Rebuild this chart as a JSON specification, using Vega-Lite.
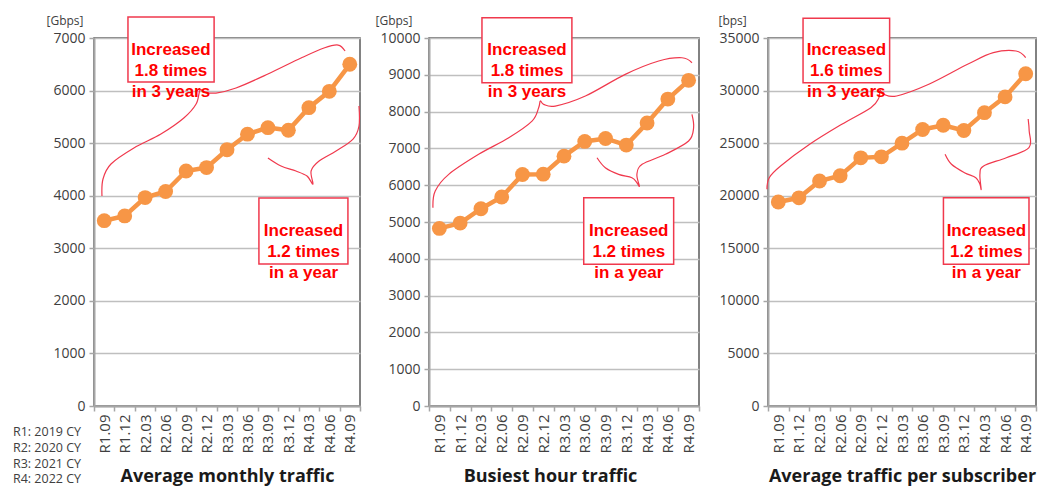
{
  "$schema": "https://vega.github.io/schema/vega-lite/v6.json",
  "padding": {"left": 12, "top": 13, "right": 0, "bottom": 0},
  "bounds": "flush",
  "spacing": 69,
  "datasets": {
    "traffic": [
      {"period": "R1.09", "monthly": 3525, "busiest": 4825, "subscriber": 19400},
      {"period": "R1.12", "monthly": 3615, "busiest": 4970, "subscriber": 19800},
      {"period": "R2.03", "monthly": 3965, "busiest": 5360, "subscriber": 21400},
      {"period": "R2.06", "monthly": 4080, "busiest": 5680, "subscriber": 21900},
      {"period": "R2.09", "monthly": 4470, "busiest": 6290, "subscriber": 23600},
      {"period": "R2.12", "monthly": 4535, "busiest": 6300, "subscriber": 23700},
      {"period": "R3.03", "monthly": 4875, "busiest": 6790, "subscriber": 25000},
      {"period": "R3.06", "monthly": 5170, "busiest": 7190, "subscriber": 26300},
      {"period": "R3.09", "monthly": 5295, "busiest": 7270, "subscriber": 26700},
      {"period": "R3.12", "monthly": 5245, "busiest": 7090, "subscriber": 26200},
      {"period": "R4.03", "monthly": 5675, "busiest": 7690, "subscriber": 27900},
      {"period": "R4.06", "monthly": 5985, "busiest": 8340, "subscriber": 29400},
      {"period": "R4.09", "monthly": 6500, "busiest": 8850, "subscriber": 31600}
    ],
    "boxes": [
      {"panel": 1, "x1": 1.16, "x2": 5.37, "y1": 6163, "y2": 7399, "cx": 3.26, "cy": 6781, "label": "Increased\n1.8 times\nin 3 years"},
      {"panel": 1, "x1": 7.56, "x2": 11.91, "y1": 2701, "y2": 3956, "cx": 9.74, "cy": 3329, "label": "Increased\n1.2 times\nin a year"},
      {"panel": 2, "x1": 2.05, "x2": 6.38, "y1": 8784, "y2": 10550, "cx": 4.22, "cy": 9667, "label": "Increased\n1.8 times\nin 3 years"},
      {"panel": 2, "x1": 6.95, "x2": 11.28, "y1": 3850, "y2": 5660, "cx": 9.12, "cy": 4755, "label": "Increased\n1.2 times\nin a year"},
      {"panel": 3, "x1": 1.2, "x2": 5.4, "y1": 30750, "y2": 36874, "cx": 3.3, "cy": 33812, "label": "Increased\n1.6 times\nin 3 years"},
      {"panel": 3, "x1": 8.01, "x2": 12.16, "y1": 13477, "y2": 19812, "cx": 10.09, "cy": 16645, "label": "Increased\n1.2 times\nin a year"}
    ],
    "notes": [
      {"x": -4.46, "y": -495, "label": "R1: 2019 CY\nR2: 2020 CY\nR3: 2021 CY\nR4: 2022 CY"}
    ],
    "braces": [
      {"panel": 1, "b": 1, "k": 1, "x": -0.11, "y": 3994},
      {"panel": 1, "b": 1, "k": 2, "x": -0.06, "y": 4318},
      {"panel": 1, "b": 1, "k": 3, "x": 0.33, "y": 4603},
      {"panel": 1, "b": 1, "k": 4, "x": 1.45, "y": 4907},
      {"panel": 1, "b": 1, "k": 5, "x": 2.77, "y": 5173},
      {"panel": 1, "b": 1, "k": 6, "x": 3.89, "y": 5478},
      {"panel": 1, "b": 1, "k": 7, "x": 4.49, "y": 5744},
      {"panel": 1, "b": 1, "k": 8, "x": 4.68, "y": 6010},
      {"panel": 1, "b": 1, "k": 9, "x": 4.88, "y": 5972},
      {"panel": 1, "b": 1, "k": 10, "x": 5.46, "y": 5953},
      {"panel": 1, "b": 1, "k": 11, "x": 6.44, "y": 6048},
      {"panel": 1, "b": 1, "k": 12, "x": 8.0, "y": 6315},
      {"panel": 1, "b": 1, "k": 13, "x": 9.62, "y": 6619},
      {"panel": 1, "b": 1, "k": 14, "x": 10.74, "y": 6809},
      {"panel": 1, "b": 1, "k": 15, "x": 11.43, "y": 6866},
      {"panel": 1, "b": 1, "k": 16, "x": 11.77, "y": 6752},
      {"panel": 1, "b": 2, "k": 1, "x": 8.0, "y": 4717},
      {"panel": 1, "b": 2, "k": 2, "x": 8.64, "y": 4565},
      {"panel": 1, "b": 2, "k": 3, "x": 9.37, "y": 4470},
      {"panel": 1, "b": 2, "k": 4, "x": 9.91, "y": 4375},
      {"panel": 1, "b": 2, "k": 5, "x": 10.2, "y": 4222},
      {"panel": 1, "b": 2, "k": 6, "x": 10.11, "y": 4470},
      {"panel": 1, "b": 2, "k": 7, "x": 10.5, "y": 4660},
      {"panel": 1, "b": 2, "k": 8, "x": 11.33, "y": 4850},
      {"panel": 1, "b": 2, "k": 9, "x": 12.16, "y": 5078},
      {"panel": 1, "b": 2, "k": 10, "x": 12.45, "y": 5326},
      {"panel": 1, "b": 2, "k": 11, "x": 12.45, "y": 5706},
      {"panel": 2, "b": 3, "k": 1, "x": -0.31, "y": 5388},
      {"panel": 2, "b": 3, "k": 2, "x": -0.2, "y": 5842},
      {"panel": 2, "b": 3, "k": 3, "x": 0.45, "y": 6295},
      {"panel": 2, "b": 3, "k": 4, "x": 1.89, "y": 6839},
      {"panel": 2, "b": 3, "k": 5, "x": 3.34, "y": 7290},
      {"panel": 2, "b": 3, "k": 6, "x": 4.46, "y": 7743},
      {"panel": 2, "b": 3, "k": 7, "x": 4.78, "y": 8105},
      {"panel": 2, "b": 3, "k": 8, "x": 4.86, "y": 8287},
      {"panel": 2, "b": 3, "k": 9, "x": 5.02, "y": 8197},
      {"panel": 2, "b": 3, "k": 10, "x": 5.58, "y": 8151},
      {"panel": 2, "b": 3, "k": 11, "x": 7.03, "y": 8423},
      {"panel": 2, "b": 3, "k": 12, "x": 8.95, "y": 9012},
      {"panel": 2, "b": 3, "k": 13, "x": 10.56, "y": 9374},
      {"panel": 2, "b": 3, "k": 14, "x": 11.68, "y": 9463},
      {"panel": 2, "b": 3, "k": 15, "x": 12.16, "y": 9327},
      {"panel": 2, "b": 4, "k": 1, "x": 7.59, "y": 6746},
      {"panel": 2, "b": 4, "k": 2, "x": 7.99, "y": 6475},
      {"panel": 2, "b": 4, "k": 3, "x": 8.63, "y": 6295},
      {"panel": 2, "b": 4, "k": 4, "x": 9.27, "y": 6203},
      {"panel": 2, "b": 4, "k": 5, "x": 9.51, "y": 6067},
      {"panel": 2, "b": 4, "k": 6, "x": 9.63, "y": 5977},
      {"panel": 2, "b": 4, "k": 7, "x": 9.51, "y": 6295},
      {"panel": 2, "b": 4, "k": 8, "x": 9.76, "y": 6567},
      {"panel": 2, "b": 4, "k": 9, "x": 10.88, "y": 6839},
      {"panel": 2, "b": 4, "k": 10, "x": 12.0, "y": 7200},
      {"panel": 2, "b": 4, "k": 11, "x": 12.24, "y": 7561},
      {"panel": 2, "b": 4, "k": 12, "x": 12.16, "y": 7926},
      {"panel": 3, "b": 5, "k": 1, "x": -0.55, "y": 20611},
      {"panel": 3, "b": 5, "k": 2, "x": -0.44, "y": 21714},
      {"panel": 3, "b": 5, "k": 3, "x": 0.11, "y": 22826},
      {"panel": 3, "b": 5, "k": 4, "x": 1.52, "y": 24890},
      {"panel": 3, "b": 5, "k": 5, "x": 3.08, "y": 26793},
      {"panel": 3, "b": 5, "k": 6, "x": 4.49, "y": 28372},
      {"panel": 3, "b": 5, "k": 7, "x": 4.88, "y": 29323},
      {"panel": 3, "b": 5, "k": 8, "x": 4.93, "y": 30027},
      {"panel": 3, "b": 5, "k": 9, "x": 5.12, "y": 29646},
      {"panel": 3, "b": 5, "k": 10, "x": 5.74, "y": 29485},
      {"panel": 3, "b": 5, "k": 11, "x": 7.3, "y": 30597},
      {"panel": 3, "b": 5, "k": 12, "x": 9.18, "y": 32499},
      {"panel": 3, "b": 5, "k": 13, "x": 10.43, "y": 33602},
      {"panel": 3, "b": 5, "k": 14, "x": 11.53, "y": 33764},
      {"panel": 3, "b": 5, "k": 15, "x": 12.0, "y": 33127},
      {"panel": 3, "b": 6, "k": 1, "x": 8.09, "y": 23939},
      {"panel": 3, "b": 6, "k": 2, "x": 8.4, "y": 22988},
      {"panel": 3, "b": 6, "k": 3, "x": 9.03, "y": 22189},
      {"panel": 3, "b": 6, "k": 4, "x": 9.58, "y": 21714},
      {"panel": 3, "b": 6, "k": 5, "x": 9.78, "y": 21086},
      {"panel": 3, "b": 6, "k": 6, "x": 9.84, "y": 20611},
      {"panel": 3, "b": 6, "k": 7, "x": 9.78, "y": 22037},
      {"panel": 3, "b": 6, "k": 8, "x": 9.96, "y": 22826},
      {"panel": 3, "b": 6, "k": 9, "x": 11.06, "y": 23616},
      {"panel": 3, "b": 6, "k": 10, "x": 12.16, "y": 24567},
      {"panel": 3, "b": 6, "k": 11, "x": 12.17, "y": 26155},
      {"panel": 3, "b": 6, "k": 12, "x": 12.12, "y": 27297}
    ]
  },
  "hconcat": [
    {
      "width": 266,
      "height": 368,
      "resolve": {"scale": {"x": "independent", "y": "independent"}},
      "layer": [
        {
          "data": {"name": "traffic"},
          "encoding": {
            "x": {"field": "period", "type": "ordinal", "bandPosition": 0.5,
              "scale": {"type": "band", "paddingInner": 0, "paddingOuter": 0},
              "axis": {"title": "Average monthly traffic", "tickBand": "extent"}},
            "y": {"field": "monthly", "type": "quantitative",
              "scale": {"domain": [0, 7000]},
              "axis": {"values": [0, 1000, 2000, 3000, 4000, 5000, 6000, 7000], "format": "d", "title": "[Gbps]", "titleX": -48}}
          },
          "layer": [
            {"mark": {"type": "line", "color": "#F79646", "strokeWidth": 4.5}},
            {"mark": {"type": "circle", "color": "#F79646", "size": 220, "opacity": 1}}
          ]
        },
        {
          "data": {"name": "braces"},
          "transform": [{"filter": "datum.panel == 1"}],
          "mark": {"type": "line", "interpolate": "cardinal", "color": "#f0394d", "strokeWidth": 1.2},
          "encoding": {
            "x": {"field": "x", "type": "quantitative", "scale": {"domain": [-0.5, 12.5]}, "axis": null},
            "y": {"field": "y", "type": "quantitative", "scale": {"domain": [0, 7000]}, "axis": null},
            "detail": {"field": "b"},
            "order": {"field": "k"}
          }
        },
        {
          "data": {"name": "boxes"},
          "transform": [{"filter": "datum.panel == 1"}],
          "mark": {"type": "rect", "fill": "white", "stroke": "#f0394d", "strokeWidth": 1.5},
          "encoding": {
            "x": {"field": "x1", "type": "quantitative", "scale": {"domain": [-0.5, 12.5]}, "axis": null},
            "x2": {"field": "x2"},
            "y": {"field": "y1", "type": "quantitative", "scale": {"domain": [0, 7000]}, "axis": null},
            "y2": {"field": "y2"}
          }
        },
        {
          "data": {"name": "boxes"},
          "transform": [{"filter": "datum.panel == 1"}],
          "mark": {"type": "text", "lineBreak": "\n", "lineHeight": 21, "font": "Liberation Sans", "fontSize": 17, "fontWeight": "bold", "color": "#ff0000", "align": "center", "baseline": "middle"},
          "encoding": {
            "x": {"field": "cx", "type": "quantitative", "scale": {"domain": [-0.5, 12.5]}, "axis": null},
            "y": {"field": "cy", "type": "quantitative", "scale": {"domain": [0, 7000]}, "axis": null},
            "text": {"field": "label"}
          }
        },
        {
          "data": {"name": "notes"},
          "mark": {"type": "text", "lineBreak": "\n", "lineHeight": 15.8, "font": "Open Sans", "fontSize": 12.5, "color": "#404040", "align": "left", "baseline": "middle"},
          "encoding": {
            "x": {"field": "x", "type": "quantitative", "scale": {"domain": [-0.5, 12.5]}, "axis": null},
            "y": {"field": "y", "type": "quantitative", "scale": {"domain": [0, 7000]}, "axis": null},
            "text": {"field": "label"}
          }
        }
      ]
    },
    {
      "width": 270,
      "height": 368,
      "resolve": {"scale": {"x": "independent", "y": "independent"}},
      "layer": [
        {
          "data": {"name": "traffic"},
          "encoding": {
            "x": {"field": "period", "type": "ordinal", "bandPosition": 0.5,
              "scale": {"type": "band", "paddingInner": 0, "paddingOuter": 0},
              "axis": {"title": "Busiest hour traffic", "tickBand": "extent", "titleX": 121}},
            "y": {"field": "busiest", "type": "quantitative",
              "scale": {"domain": [0, 10000]},
              "axis": {"values": [0, 1000, 2000, 3000, 4000, 5000, 6000, 7000, 8000, 9000, 10000], "format": "d", "title": "[Gbps]", "titleX": -54}}
          },
          "layer": [
            {"mark": {"type": "line", "color": "#F79646", "strokeWidth": 4.5}},
            {"mark": {"type": "circle", "color": "#F79646", "size": 220, "opacity": 1}}
          ]
        },
        {
          "data": {"name": "braces"},
          "transform": [{"filter": "datum.panel == 2"}],
          "mark": {"type": "line", "interpolate": "cardinal", "color": "#f0394d", "strokeWidth": 1.2},
          "encoding": {
            "x": {"field": "x", "type": "quantitative", "scale": {"domain": [-0.5, 12.5]}, "axis": null},
            "y": {"field": "y", "type": "quantitative", "scale": {"domain": [0, 10000]}, "axis": null},
            "detail": {"field": "b"},
            "order": {"field": "k"}
          }
        },
        {
          "data": {"name": "boxes"},
          "transform": [{"filter": "datum.panel == 2"}],
          "mark": {"type": "rect", "fill": "white", "stroke": "#f0394d", "strokeWidth": 1.5},
          "encoding": {
            "x": {"field": "x1", "type": "quantitative", "scale": {"domain": [-0.5, 12.5]}, "axis": null},
            "x2": {"field": "x2"},
            "y": {"field": "y1", "type": "quantitative", "scale": {"domain": [0, 10000]}, "axis": null},
            "y2": {"field": "y2"}
          }
        },
        {
          "data": {"name": "boxes"},
          "transform": [{"filter": "datum.panel == 2"}],
          "mark": {"type": "text", "lineBreak": "\n", "lineHeight": 21, "font": "Liberation Sans", "fontSize": 17, "fontWeight": "bold", "color": "#ff0000", "align": "center", "baseline": "middle"},
          "encoding": {
            "x": {"field": "cx", "type": "quantitative", "scale": {"domain": [-0.5, 12.5]}, "axis": null},
            "y": {"field": "cy", "type": "quantitative", "scale": {"domain": [0, 10000]}, "axis": null},
            "text": {"field": "label"}
          }
        }
      ]
    },
    {
      "width": 268,
      "height": 368,
      "resolve": {"scale": {"x": "independent", "y": "independent"}},
      "layer": [
        {
          "data": {"name": "traffic"},
          "encoding": {
            "x": {"field": "period", "type": "ordinal", "bandPosition": 0.5,
              "scale": {"type": "band", "paddingInner": 0, "paddingOuter": 0},
              "axis": {"title": "Average traffic per subscriber", "tickBand": "extent"}},
            "y": {"field": "subscriber", "type": "quantitative",
              "scale": {"domain": [0, 35000]},
              "axis": {"values": [0, 5000, 10000, 15000, 20000, 25000, 30000, 35000], "format": "d", "title": "[bps]", "titleX": -50}}
          },
          "layer": [
            {"mark": {"type": "line", "color": "#F79646", "strokeWidth": 4.5}},
            {"mark": {"type": "circle", "color": "#F79646", "size": 220, "opacity": 1}}
          ]
        },
        {
          "data": {"name": "braces"},
          "transform": [{"filter": "datum.panel == 3"}],
          "mark": {"type": "line", "interpolate": "cardinal", "color": "#f0394d", "strokeWidth": 1.2},
          "encoding": {
            "x": {"field": "x", "type": "quantitative", "scale": {"domain": [-0.5, 12.5]}, "axis": null},
            "y": {"field": "y", "type": "quantitative", "scale": {"domain": [0, 35000]}, "axis": null},
            "detail": {"field": "b"},
            "order": {"field": "k"}
          }
        },
        {
          "data": {"name": "boxes"},
          "transform": [{"filter": "datum.panel == 3"}],
          "mark": {"type": "rect", "fill": "white", "stroke": "#f0394d", "strokeWidth": 1.5},
          "encoding": {
            "x": {"field": "x1", "type": "quantitative", "scale": {"domain": [-0.5, 12.5]}, "axis": null},
            "x2": {"field": "x2"},
            "y": {"field": "y1", "type": "quantitative", "scale": {"domain": [0, 35000]}, "axis": null},
            "y2": {"field": "y2"}
          }
        },
        {
          "data": {"name": "boxes"},
          "transform": [{"filter": "datum.panel == 3"}],
          "mark": {"type": "text", "lineBreak": "\n", "lineHeight": 21, "font": "Liberation Sans", "fontSize": 17, "fontWeight": "bold", "color": "#ff0000", "align": "center", "baseline": "middle"},
          "encoding": {
            "x": {"field": "cx", "type": "quantitative", "scale": {"domain": [-0.5, 12.5]}, "axis": null},
            "y": {"field": "cy", "type": "quantitative", "scale": {"domain": [0, 35000]}, "axis": null},
            "text": {"field": "label"}
          }
        }
      ]
    }
  ],
  "config": {
    "view": {"stroke": "#595959", "strokeWidth": 1.5},
    "axis": {
      "labelFont": "Open Sans", "labelColor": "#404040",
      "tickColor": "#a6a6a6", "tickWidth": 1.5, "tickSize": 5,
      "domainColor": "#a6a6a6", "domainWidth": 2,
      "gridColor": "#bfbfbf", "gridWidth": 1.5,
      "titleFont": "Open Sans"
    },
    "axisX": {
      "labelAngle": -90, "labelFontSize": 15, "labelPadding": 3, "grid": false,
      "titleFontSize": 18, "titleFontWeight": "bold", "titleColor": "#1a1a1a",
      "titleY": 75, "titleBaseline": "alphabetic"
    },
    "axisY": {
      "labelFontSize": 14, "labelPadding": 4, "grid": true,
      "titleAngle": 0, "titleAlign": "left", "titleBaseline": "middle", "titleY": -17.5,
      "titleFontSize": 12, "titleFontWeight": "normal", "titleColor": "#404040"
    }
  }
}
